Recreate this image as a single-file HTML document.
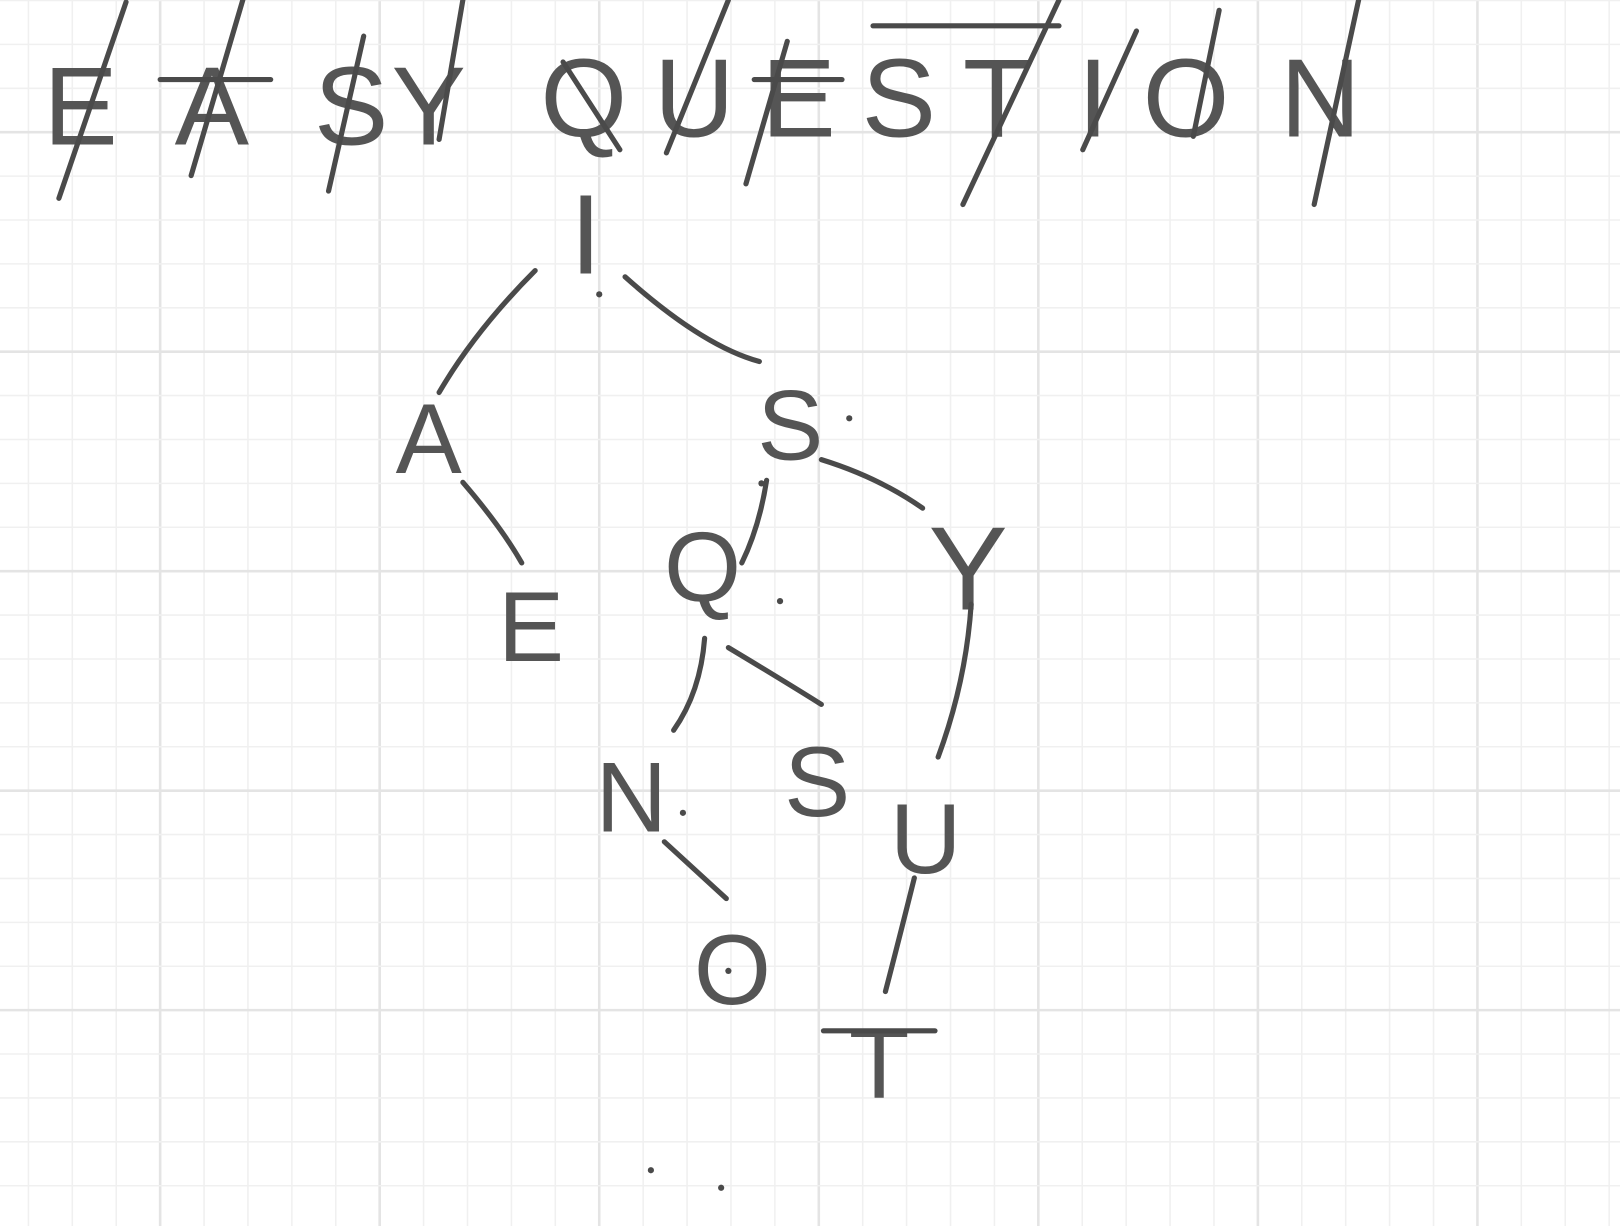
<!DOCTYPE html>
<html><head><meta charset="utf-8"><style>
html,body{margin:0;padding:0;background:#fff;overflow:hidden}
svg{display:block}
text{font-family:"Liberation Sans",sans-serif;fill:#555;font-weight:normal}
</style></head><body>
<svg width="1620" height="1226" viewBox="0 0 1568 1187" preserveAspectRatio="none" xmlns="http://www.w3.org/2000/svg">
<g id="grid"></g>
<g font-size="108" text-anchor="middle">
<text y="140"><tspan x="78">E</tspan><tspan x="205">A</tspan><tspan x="340">S</tspan><tspan x="415">Y</tspan></text>
<text y="132"><tspan x="565">Q</tspan><tspan x="672">U</tspan><tspan x="773">E</tspan><tspan x="870">S</tspan><tspan x="965">T</tspan><tspan x="1058">I</tspan><tspan x="1148">O</tspan><tspan x="1278">N</tspan></text>
</g>
<g stroke="#4a4a4a" stroke-width="5" stroke-linecap="round" fill="none">
<path d="M57 192 L122 2"/><path d="M185 170 L235 0"/><path d="M155 77 L262 77"/>
<path d="M318 185 L352 35"/><path d="M425 135 L448 0"/><path d="M545 60 L600 145"/>
<path d="M645 148 L705 0"/><path d="M722 178 L762 40"/><path d="M730 77 L815 77"/>
<path d="M845 25 L1025 25"/><path d="M932 198 L1025 0"/><path d="M1155 132 L1180 10"/>
<path d="M1272 198 L1315 0"/><path d="M1048 145 L1100 30"/>
</g>
<g font-size="96" text-anchor="middle">
<text x="567" y="265" font-size="110">I</text>
<text x="415" y="458">A</text>
<text x="765" y="445">S</text>
<text x="680" y="582">Q</text>
<text x="937" y="590" font-size="115">Y</text>
<text x="514" y="640">E</text>
<text x="611" y="805">N</text>
<text x="791" y="790">S</text>
<text x="896" y="845">U</text>
<text x="709" y="972">O</text>
<text x="851" y="1063" font-size="96">T</text>
</g>
<g stroke="#4a4a4a" stroke-width="5" stroke-linecap="round" fill="none">
<path d="M518 262 Q460 320 425 380"/>
<path d="M605 268 Q680 335 735 350"/>
<path d="M742 465 Q735 510 718 545"/>
<path d="M795 445 Q850 462 893 492"/>
<path d="M448 467 Q485 510 505 545"/>
<path d="M682 618 Q678 670 652 707"/>
<path d="M705 627 Q760 660 795 682"/>
<path d="M940 585 Q935 660 908 733"/>
<path d="M643 815 L703 870"/>
<path d="M885 850 Q870 910 857 960"/>
<path d="M797 998 L905 998"/>
</g>
<g fill="#4a4a4a">
<circle cx="580" cy="285" r="3"/><circle cx="822" cy="405" r="3"/><circle cx="737" cy="468" r="3"/>
<circle cx="755" cy="582" r="3"/><circle cx="661" cy="787" r="3"/><circle cx="705" cy="940" r="3"/>
<circle cx="630" cy="1133" r="3"/><circle cx="698" cy="1150" r="3"/>
</g>
</svg>
<script>
var g=document.getElementById('grid');
var ns='http://www.w3.org/2000/svg';
for(var i=0;i<40;i++){
  var x=27.5+i*42.5;
  var l=document.createElementNS(ns,'line');
  l.setAttribute('x1',x);l.setAttribute('x2',x);l.setAttribute('y1',0);l.setAttribute('y2',1187);
  l.setAttribute('stroke',(i%5==3)?'#e4e4e4':'#f0f0f0');l.setAttribute('stroke-width',(i%5==3)?2.5:1.5);
  
  
  g.appendChild(l);
}
for(var j=0;j<30;j++){
  var y=0.5+j*42.5;
  var h=document.createElementNS(ns,'line');
  h.setAttribute('x1',0);h.setAttribute('x2',1568);h.setAttribute('y1',y);h.setAttribute('y2',y);
  h.setAttribute('stroke',(j%5==3)?'#e4e4e4':'#f0f0f0');h.setAttribute('stroke-width',(j%5==3)?2.5:1.5);
  
  
  g.appendChild(h);
}
</script>
</body></html>
